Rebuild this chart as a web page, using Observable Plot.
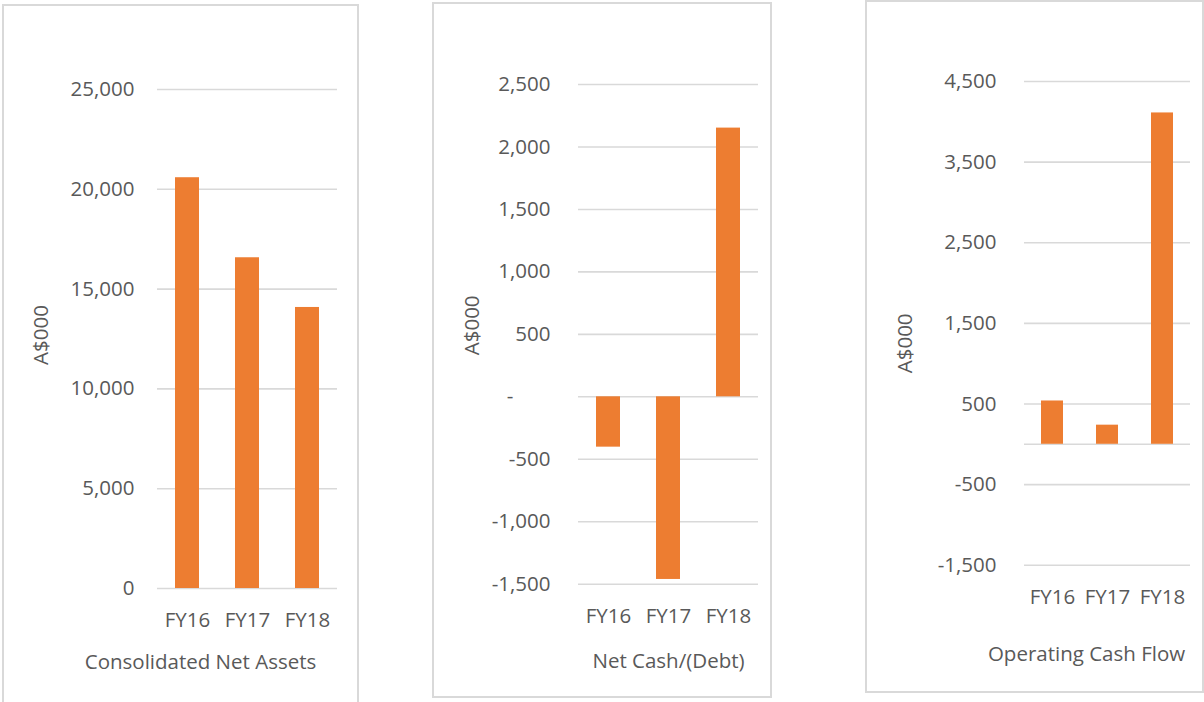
<!DOCTYPE html>
<html>
<head>
<meta charset="utf-8">
<script src="https://cdn.jsdelivr.net/npm/d3@7"></script>
<script src="https://cdn.jsdelivr.net/npm/@observablehq/plot@0.6"></script>
<style>
  html, body { margin: 0; padding: 0; background: #fff; }
  #root { position: relative; width: 1204px; height: 702px; overflow: hidden; background: #fff; }
  .frame { position: absolute; box-sizing: border-box; border: 2px solid #d9d9d9; }
  .chart { position: absolute; top: 0; }
</style>
</head>
<body>
<div id="root">
  <div class="frame" style="left:2px;top:4px;width:357px;height:730px;"></div>
  <div class="frame" style="left:432px;top:2px;width:340px;height:696px;"></div>
  <div class="frame" style="left:865px;top:0px;width:339px;height:693px;"></div>
  <div id="c1" class="chart" style="left:0px;"></div>
  <div id="c2" class="chart" style="left:430px;"></div>
  <div id="c3" class="chart" style="left:860px;"></div>
</div>
<script>
// ---- data ----
const years = ["FY16", "FY17", "FY18"];
const netAssets = [20580, 16570, 14080];
const netCash = [-403, -1462, 2151];
const operatingCashFlow = [537, 237, 4110];

const netAssetsTicks = [0, 5000, 10000, 15000, 20000, 25000];
const netCashTicks = [-1500, -1000, -500, 0, 500, 1000, 1500, 2000, 2500];
const opCashTicks = [-1500, -500, 500, 1500, 2500, 3500, 4500];

const titles = ["Consolidated Net Assets", "Net Cash/(Debt)", "Operating Cash Flow"];
const unitLabel = "A$000";

// ---- helpers ----
const ORANGE = "#ED7D31";
const GRID = "#d9d9d9";
const TEXT = "#595959";
const fmtComma = d3.format(",");
const hyph = d => fmtComma(d).replace("\u2212", "-");

function panel(el, cfg) {
  const rows = years.map((y, i) => ({year: y, value: cfg.values[i]}));
  const chart = Plot.plot({
    width: cfg.width,
    height: 702,
    marginLeft: cfg.ml,
    marginRight: cfg.mr,
    marginTop: cfg.mt,
    marginBottom: cfg.mb,
    style: {fontFamily: "'Open Sans', sans-serif", fontSize: "20.5px", color: TEXT, background: "transparent", overflow: "visible"},
    x: {domain: years, paddingInner: 0.6, paddingOuter: 0.3},
    y: {domain: cfg.domain},
    marks: [
      Plot.gridY(cfg.ticks, {stroke: GRID, strokeOpacity: 1, strokeWidth: 1.6}),
      ...(cfg.zeroRule ? [Plot.ruleY([0], {stroke: GRID, strokeWidth: 1.6})] : []),
      Plot.barY(rows, {x: "year", y: "value", fill: ORANGE}),
      Plot.axisY(cfg.ticks, {tickSize: 0, tickPadding: cfg.tp, tickFormat: cfg.fmt, label: null, fill: TEXT}),
      Plot.axisX({tickSize: 0, tickPadding: 24, label: null, fill: TEXT}),
      Plot.text([cfg.title], {frameAnchor: "bottom", textAnchor: "middle", dx: cfg.tdx, dy: cfg.tdy, fill: TEXT}),
      Plot.text([unitLabel], {frameAnchor: "left", textAnchor: "middle", rotate: -90, dx: cfg.ldx, dy: cfg.ldy, fill: TEXT})
    ]
  });
  document.getElementById(el).appendChild(chart);
}

panel("c1", {
  width: 360, ml: 157, mr: 23, mt: 89, mb: 114,
  values: netAssets, ticks: netAssetsTicks, domain: [0, 25000],
  tp: 23, fmt: hyph, title: titles[0], tdx: -47, tdy: 80, ldx: -116, ldy: -4
});

panel("c2", {
  width: 345, ml: 148, mr: 17, mt: 84, mb: 118.3,
  values: netCash, ticks: netCashTicks, domain: [-1500, 2500],
  tp: 28, fmt: d => d === 0 ? "-\u00a0\u00a0\u00a0\u00a0\u00a0\u00a0\u00a0" : hyph(d),
  title: titles[1], tdx: 0, tdy: 84, ldx: -106, ldy: -9
});

panel("c3", {
  width: 344, ml: 164, mr: 14, mt: 81, mb: 137.3,
  values: operatingCashFlow, ticks: opCashTicks, domain: [-1500, 4500],
  tp: 28, fmt: hyph, zeroRule: true,
  title: titles[2], tdx: -21, tdy: 96, ldx: -119, ldy: 20
});
</script>
</body>
</html>
